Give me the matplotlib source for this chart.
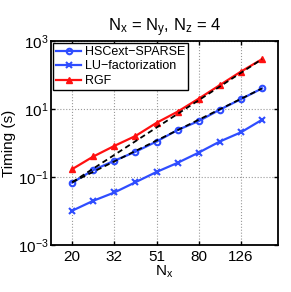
import matplotlib
matplotlib.use('Agg')
import matplotlib.pyplot as plt
from matplotlib.ticker import FixedLocator, FixedFormatter, NullLocator

plt.rcParams['font.family'] = ['Liberation Sans', 'DejaVu Sans']
plt.rcParams['mathtext.fontset'] = 'custom'
plt.rcParams['mathtext.rm'] = 'Liberation Sans'
plt.rcParams['mathtext.it'] = 'Liberation Sans'

# problem sizes (N_x)
nx = [20, 25.2, 31.7, 39.9, 50.2, 63.2, 79.6, 100.2, 126.2, 158.9]

# timings in seconds
t_hsc = [0.068, 0.16, 0.30, 0.55, 1.1, 2.4, 4.4, 9.5, 19.4, 40]
t_lu = [0.0102, 0.020, 0.035, 0.070, 0.14, 0.26, 0.52, 1.1, 2.05, 4.8]
t_rgf = [0.17, 0.40, 0.82, 1.6, 3.9, 8.3, 20, 50, 125, 290]

# reference slopes (two end points each)
ref_x = [20, 158.9]
ref_n3 = [0.07, 40]
ref_n4 = [0.07, 290]

xticks = [20, 31.7, 50.2, 79.6, 126.2]
xticklabels = ['20', '32', '51', '80', '126']
yticks = [1e-3, 1e-1, 1e1, 1e3]
yticklabels = [r'$10^{-3}$', r'$10^{-1}$', r'$10^{1}$', r'$10^{3}$']

blue = '#2f4dff'
red = '#ff1010'

fig = plt.figure(figsize=(2.91, 2.92), dpi=100)
ax = fig.add_axes([0.176, 0.161, 0.779, 0.699])

ax.plot(nx, t_hsc, '-o', color=blue, lw=1.6, ms=4, mfc='none', mew=1.5,
        label='HSCext\u2212SPARSE', zorder=3)
ax.plot(nx, t_lu, '-x', color=blue, lw=1.6, ms=4, mew=1.5,
        label='LU\u2212factorization', zorder=3)
ax.plot(nx, t_rgf, '-^', color=red, lw=1.6, ms=5,
        label='RGF', zorder=3)
ax.plot(ref_x, ref_n3, '--', color='black', lw=1.3, dashes=(3, 2), zorder=4)
ax.plot(ref_x, ref_n4, '--', color='black', lw=1.3, dashes=(3, 2), zorder=4)

ax.set_xscale('log')
ax.set_yscale('log')
ax.set_xlim(15.9, 189)
ax.set_ylim(1e-3, 1e3)

ax.xaxis.set_major_locator(FixedLocator(xticks))
ax.xaxis.set_major_formatter(FixedFormatter(xticklabels))
ax.xaxis.set_minor_locator(NullLocator())
ax.yaxis.set_major_locator(FixedLocator(yticks))
ax.yaxis.set_major_formatter(FixedFormatter(yticklabels))
ax.yaxis.set_minor_locator(NullLocator())
ax.tick_params(direction='in', top=True, right=True, labelsize=11, length=3, width=1)
ax.tick_params(axis='y', pad=2)

ax.grid(True, linestyle=':', color='#999999', lw=0.8)
for s in ax.spines.values():
    s.set_linewidth(1.3)

ax.set_xlabel(r'$\mathregular{N_x}$', fontsize=11, labelpad=0)
ax.set_ylabel('Timing (s)', fontsize=11, labelpad=1)
ax.set_title(r'$\mathregular{N_x}$ = $\mathregular{N_y}$, $\mathregular{N_z}$ = 4', fontsize=12, pad=7)

leg = ax.legend(loc='upper left', fontsize=9, borderaxespad=0.15, fancybox=False,
                framealpha=1, edgecolor='black', handlelength=2.0, handletextpad=0.3,
                labelspacing=0.2, borderpad=0.25)
leg.get_frame().set_linewidth(1.0)

plt.savefig('out.png', dpi=100)
plt.close()
